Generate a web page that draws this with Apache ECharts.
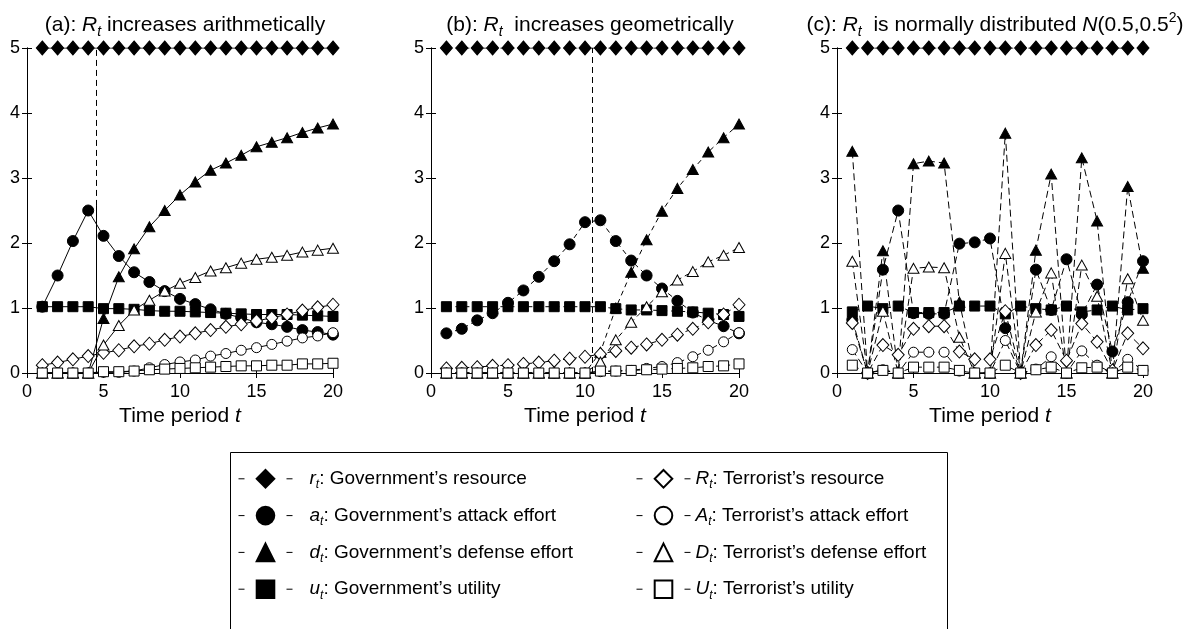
<!DOCTYPE html>
<html><head><meta charset="utf-8">
<script src="https://cdn.jsdelivr.net/npm/echarts@6/dist/echarts.min.js"></script>
<style>html,body{margin:0;padding:0;background:#fff}#c{width:1187px;height:629px}</style>
</head><body><div id="c"></div>
<script>
// ---------- data ----------
const T = [1,2,3,4,5,6,7,8,9,10,11,12,13,14,15,16,17,18,19,20];
const xTicks = [0,5,10,15,20];
const yTicks = [0,1,2,3,4,5];

// Panel (a): R_t increases arithmetically
const rA = [5,5,5,5,5,5,5,5,5,5,5,5,5,5,5,5,5,5,5,5];
const aA = [1.02,1.50,2.03,2.50,2.11,1.80,1.55,1.40,1.26,1.14,1.06,0.98,0.91,0.85,0.78,0.75,0.71,0.66,0.63,0.59];
const dA = [0,0,0,0,0.84,1.48,1.91,2.25,2.50,2.74,2.94,3.12,3.23,3.35,3.48,3.55,3.62,3.70,3.77,3.83];
const uA = [1.02,1.02,1.02,1.02,0.99,0.99,0.98,0.96,0.95,0.95,0.94,0.93,0.92,0.91,0.90,0.90,0.90,0.89,0.88,0.87];
const RA = [0.12,0.16,0.21,0.26,0.31,0.35,0.41,0.45,0.51,0.56,0.61,0.66,0.71,0.75,0.80,0.85,0.90,0.96,1.01,1.05];
const AA = [0,0,0,0,0.01,0.01,0.03,0.08,0.13,0.17,0.20,0.26,0.30,0.35,0.39,0.44,0.49,0.54,0.57,0.62];
const DA = [0,0,0,0,0.43,0.73,0.97,1.12,1.26,1.38,1.47,1.57,1.62,1.69,1.75,1.78,1.81,1.86,1.89,1.92];
const UA = [0,0,0,0,0.02,0.02,0.03,0.05,0.06,0.07,0.08,0.09,0.10,0.11,0.11,0.12,0.12,0.14,0.14,0.15];
const switchA = 4.5, switchASolidTop = 2.57;

// Panel (b): R_t increases geometrically
const rB = [5,5,5,5,5,5,5,5,5,5,5,5,5,5,5,5,5,5,5,5];
const aB = [0.61,0.68,0.81,0.92,1.08,1.27,1.48,1.72,1.98,2.32,2.35,2.03,1.73,1.50,1.30,1.11,0.93,0.81,0.72,0.61];
const dB = [0,0,0,0,0,0,0,0,0,0,0.32,1.00,1.55,2.05,2.49,2.84,3.13,3.40,3.62,3.83];
const uB = [1.02,1.02,1.02,1.02,1.02,1.02,1.02,1.02,1.02,1.02,1.02,0.99,0.97,0.97,0.96,0.95,0.94,0.92,0.90,0.87];
const RB = [0.07,0.08,0.09,0.11,0.12,0.14,0.16,0.19,0.22,0.25,0.29,0.34,0.39,0.44,0.51,0.59,0.68,0.78,0.90,1.05];
const AB = [0,0,0,0,0,0,0,0,0,0,0.02,0.03,0.04,0.07,0.10,0.16,0.25,0.35,0.48,0.62];
const DB = [0,0,0,0,0,0,0,0,0,0,0.17,0.51,0.78,1.02,1.25,1.43,1.56,1.71,1.81,1.93];
const UB = [0,0,0,0,0,0,0,0,0,0,0.03,0.03,0.04,0.05,0.06,0.07,0.08,0.10,0.11,0.14];
const switchB = 10.5;

// Panel (c): R_t normally distributed
const rC = [5,5,5,5,5,5,5,5,5,5,5,5,5,5,5,5,5,5,5,5];
const aC = [0.82,0,1.59,2.50,0.92,0.91,0.91,1.99,2.01,2.07,0.69,0,1.59,0.97,1.75,0.90,1.36,0.33,1.09,1.72];
const dC = [3.41,0,1.88,0,3.22,3.26,3.23,1.09,0,0,3.69,0,1.89,3.06,0,3.31,2.34,0,2.87,1.61];
const uC = [0.94,1.03,0.99,1.03,0.93,0.93,0.93,1.03,1.03,1.03,0.91,1.03,0.99,0.97,1.03,0.94,0.97,1.03,0.97,0.99];
const RC = [0.77,0,0.43,0.28,0.68,0.72,0.72,0.33,0.21,0.21,0.95,0,0.43,0.66,0.19,0.76,0.48,0.04,0.61,0.38];
const AC = [0.36,0,0.05,0,0.32,0.32,0.32,0.03,0,0,0.50,0,0.06,0.25,0,0.34,0.12,0,0.21,0.04];
const DC = [1.72,0,0.95,0,1.61,1.63,1.62,0.55,0,0,1.84,0,0.94,1.54,0,1.66,1.18,0,1.45,0.81];
const UC = [0.12,0,0.04,0,0.09,0.09,0.09,0.04,0,0,0.12,0,0.05,0.09,0,0.08,0.09,0,0.09,0.04];

const seriesKeys = ['r','a','d','u','R','A','D','U'];
const legendLabels = {
  r: '{g|}{i|r}{s|t}{n|: Government\u2019s resource}',
  a: '{g|}{i|a}{s|t}{n|: Government\u2019s attack effort}',
  d: '{g|}{i|d}{s|t}{n|: Government\u2019s defense effort}',
  u: '{g|}{i|u}{s|t}{n|: Government\u2019s utility}',
  R: '{i|R}{s|t}{n|: Terrorist\u2019s resource}',
  A: '{i|A}{s|t}{n|: Terrorist\u2019s attack effort}',
  D: '{i|D}{s|t}{n|: Terrorist\u2019s defense effort}',
  U: '{i|U}{s|t}{n|: Terrorist\u2019s utility}'
};
const titles = [
  '{n|(a): }{i|R}{s|t}{n| increases arithmetically}',
  '{n|(b): }{i|R}{s|t}{n|  increases geometrically}',
  '{n|(c): }{i|R}{s|t}{n|  is normally distributed }{i|N}{n|(0.5,0.5}{p|2}{n|)}'
];

// ---------- styling ----------
const FONT = 'Liberation Sans, Arial, Helvetica, sans-serif';
const panels = [
  {data:{r:rA,a:aA,d:dA,u:uA,R:RA,A:AA,D:DA,U:UA}, line:'solid', grid:{left:27, top:48, width:306, height:325}},
  {data:{r:rB,a:aB,d:dB,u:uB,R:RB,A:AB,D:DB,U:UB}, line:[5,4], grid:{left:431, top:48, width:308, height:325}},
  {data:{r:rC,a:aC,d:dC,u:uC,R:RC,A:AC,D:DC,U:UC}, line:[7,4], grid:{left:837, top:48, width:306, height:325}}
];
const symbolOf = {r:'diamond',a:'circle',d:'triangle',u:'rect',R:'diamond',A:'circle',D:'triangle',U:'rect'};
const sizeOf = {r:[12,14],a:11,d:[11,10],u:10,R:[12,13],A:10,D:[11,10],U:10};
const filled = {r:true,a:true,d:true,u:true,R:false,A:false,D:false,U:false};

const titleRich = {
  n:{fontFamily:FONT,fontSize:21,color:'#000',lineHeight:28},
  i:{fontFamily:FONT,fontSize:21,color:'#000',fontStyle:'italic',lineHeight:28},
  s:{fontFamily:FONT,fontSize:14,color:'#000',fontStyle:'italic',lineHeight:13,verticalAlign:'bottom'},
  p:{fontFamily:FONT,fontSize:14,color:'#000',lineHeight:13,verticalAlign:'top'}
};
const nameRich = {
  n:{fontFamily:FONT,fontSize:21,color:'#000'},
  i:{fontFamily:FONT,fontSize:21,color:'#000',fontStyle:'italic'}
};
const legendRich = {
  g:{width:12},
  n:{fontFamily:FONT,fontSize:19,color:'#000',lineHeight:24},
  i:{fontFamily:FONT,fontSize:19,color:'#000',fontStyle:'italic',lineHeight:24},
  s:{fontFamily:FONT,fontSize:12,color:'#000',fontStyle:'italic',lineHeight:11,verticalAlign:'bottom'}
};

const grid = [], xAxis = [], yAxis = [], series = [], title = [];
panels.forEach((p, k) => {
  grid.push(p.grid);
  title.push({
    text: titles[k], left: p.grid.left + p.grid.width / 2, textAlign: 'center', top: 6,
    textStyle: {rich: titleRich, fontFamily: FONT, fontSize: 21, color:'#000', fontWeight:'normal'}
  });
  const axisCommon = {
    type:'value', min: xTicks[0], max: xTicks[xTicks.length-1], interval: xTicks[1]-xTicks[0],
    axisLine:{show:true, lineStyle:{color:'#000', width:1}},
    axisTick:{show:true, inside:true, length:5, lineStyle:{color:'#000'}},
    splitLine:{show:false}
  };
  xAxis.push(Object.assign({}, axisCommon, {
    gridIndex:k, position:'bottom',
    axisLabel:{show:true, color:'#000', fontFamily:FONT, fontSize:18, margin:10},
    name:'{n|Time period }{i|t}', nameLocation:'middle', nameGap:33,
    nameTextStyle:{rich:nameRich, fontFamily:FONT, fontSize:21, color:'#000'}
  }));
  xAxis.push(Object.assign({}, axisCommon, {gridIndex:k, position:'top', axisLabel:{show:false}}));
  const yCommon = {
    type:'value', min: yTicks[0], max: yTicks[yTicks.length-1], interval: yTicks[1]-yTicks[0],
    axisLine:{show:true, lineStyle:{color:'#000', width:1}},
    axisTick:{show:true, inside:true, length:5, lineStyle:{color:'#000'}},
    splitLine:{show:false}
  };
  yAxis.push(Object.assign({}, yCommon, {
    gridIndex:k, position:'left',
    axisLabel:{show:true, color:'#000', fontFamily:FONT, fontSize:18, margin:7}
  }));
  yAxis.push(Object.assign({}, yCommon, {gridIndex:k, position:'right', axisLabel:{show:false}}));

  seriesKeys.forEach(key => {
    series.push({
      type:'line', name:key, xAxisIndex:2*k, yAxisIndex:2*k,
      data: T.map((t,i) => [t, p.data[key][i]]),
      symbol: symbolOf[key], symbolSize: sizeOf[key], showAllSymbol:true,
      lineStyle:{color:'#000', width:1, type:p.line},
      itemStyle:{color: filled[key] ? '#000' : '#fff', borderColor:'#000', borderWidth:1},
      emphasis:{disabled:true}, silent:true, animation:false
    });
  });
});

// vertical switch lines
series[0].markLine = {
  symbol:'none', silent:true, label:{show:false}, animation:false,
  lineStyle:{color:'#000', width:1, type:[6,4]},
  data:[[{coord:[switchA, switchASolidTop]},{coord:[switchA, yTicks[yTicks.length-1]]}]]
};
series[1].markLine = {
  symbol:'none', silent:true, label:{show:false}, animation:false,
  lineStyle:{color:'#000', width:1, type:'solid'},
  data:[[{coord:[switchA, 0]},{coord:[switchA, switchASolidTop]}]]
};
series[8].markLine = {
  symbol:'none', silent:true, label:{show:false}, animation:false,
  lineStyle:{color:'#000', width:1, type:[6,4]},
  data:[[{coord:[switchB, 0]},{coord:[switchB, yTicks[yTicks.length-1]]}]]
};

const legendCommon = {
  orient:'vertical', itemWidth:54, itemHeight:22, itemGap:15, selectedMode:false,
  lineStyle:{type:[6,42], width:1, color:'#000'},
  textStyle:{rich:legendRich, fontFamily:FONT, fontSize:19, color:'#000'},
  formatter: name => legendLabels[name]
};

const option = {
  animation:false,
  backgroundColor:'#fff',
  title, grid, xAxis, yAxis, series,
  legend:[
    Object.assign({}, legendCommon, {data:['r','a','d','u'], left:233, top:464}),
    Object.assign({}, legendCommon, {data:['R','A','D','U'], left:631, top:464})
  ],
  graphic:[{
    type:'rect', left:228, top:450, silent:true,
    shape:{width:717, height:200},
    style:{fill:'none', stroke:'#000', lineWidth:1}
  }]
};

const chart = echarts.init(document.getElementById('c'), null, {renderer:'canvas'});
chart.setOption(option);
</script></body></html>
